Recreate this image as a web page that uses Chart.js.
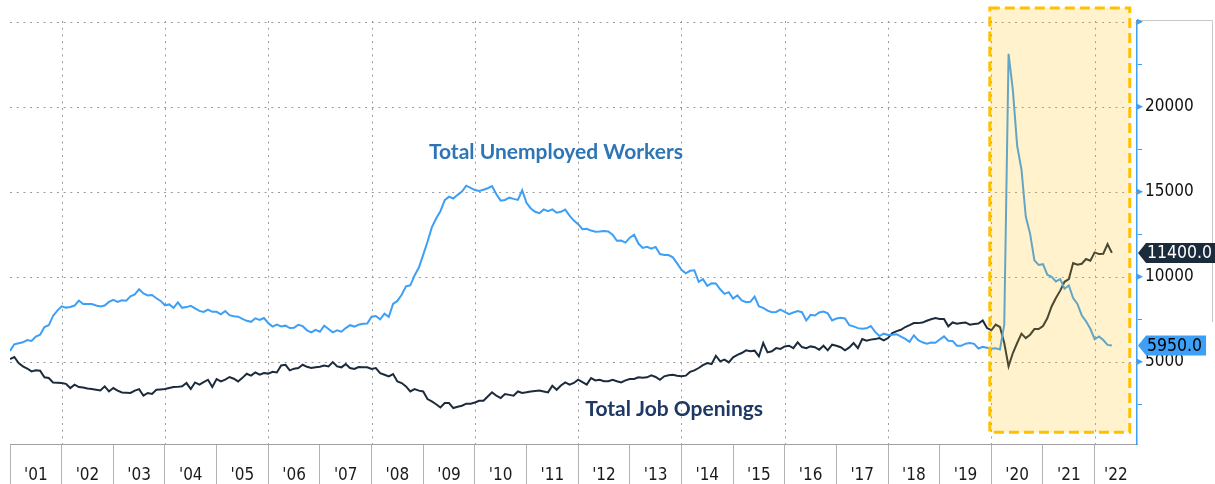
<!DOCTYPE html>
<html>
<head>
<meta charset="utf-8">
<script src="https://cdn.jsdelivr.net/npm/chart.js@4.4.1/dist/chart.umd.min.js"></script>
<style>
body{margin:0;background:#fff}
#wrap{width:1215px;height:484px}
</style>
</head>
<body>
<div id="wrap"><canvas id="chart" width="1215" height="484"></canvas></div>
<script>
// monthly, Dec 2000 .. Apr 2022, thousands; points sit at month end
var firstX = 2001;
var xMax = 2022.82;

var unemployed = [5634,
  6023,6089,6141,6271,6226,6484,6583,7042,7142,7694,8003,8258,
  8182,8215,8304,8599,8399,8393,8390,8304,8251,8307,8520,8640,
  8520,8618,8588,8842,8957,9266,9011,8896,8921,8732,8576,8317,
  8370,8167,8491,8170,8212,8286,8136,7990,7927,8061,7932,7934,
  7784,7980,7737,7672,7651,7524,7406,7345,7553,7453,7566,7279,
  7064,7184,7072,7120,6980,7001,7175,7091,6847,6727,6872,6762,
  7116,6927,6731,6850,6766,6979,7149,7067,7170,7237,7240,7645,
  7685,7497,7822,7637,8395,8575,8937,9438,9494,10074,10538,11286,
  12058,12898,13426,13853,14499,14707,14601,14814,15009,15352,15219,15098,
  15046,15113,15202,15325,14849,14474,14512,14648,14579,14516,15081,14348,
  14013,13820,13737,13957,13855,13962,13763,13818,13948,13594,13302,13093,
  12797,12813,12713,12646,12660,12692,12656,12471,12115,12124,12005,12298,
  12471,11950,11689,11760,11654,11751,11335,11279,11270,11136,10787,10404,
  10202,10349,10380,9702,9859,9460,9608,9599,9262,8990,9090,8717,
  8903,8610,8504,8526,8834,8247,8167,8008,7915,7927,8061,7935,
  7802,7892,7983,7914,7425,7756,7717,7897,7951,7843,7431,7542,
  7592,7543,7149,7079,6976,6935,6965,7100,6750,6510,6648,6573,
  6590,6620,6476,6342,6167,6554,6263,6141,6056,6128,6114,6305,
  6492,6237,6225,5940,5933,6061,6094,6052,5779,5871,5823,5767,
  5796,5726,7185,23109,20975,17697,16308,13542,12535,10963,10696,10736,
  10115,9992,9719,9855,9293,9484,8748,8402,7735,7376,6936,6323,
  6487,6274,5991,5950];

var openings = [
  5160,5275,4920,4725,4600,4430,4500,4470,4080,4040,3780,3760,
  3745,3700,3450,3650,3510,3480,3420,3390,3350,3310,3550,3250,
  3450,3300,3195,3180,3160,3300,3390,3000,3160,3100,3350,3370,
  3390,3450,3510,3520,3550,3745,3390,3780,3650,3800,3940,3510,
  3980,3840,3950,4100,4000,3840,4050,4290,4180,4370,4235,4330,
  4300,4410,4370,4780,4820,4490,4590,4630,4820,4700,4630,4670,
  4700,4780,4725,4980,4725,4670,4860,4630,4570,4690,4680,4670,
  4570,4630,4330,4235,4140,4275,3840,3745,3550,3250,3390,3300,
  3250,2805,2665,2500,2310,2570,2570,2275,2350,2410,2530,2530,
  2600,2700,2705,2950,3195,3000,2865,3100,3050,3000,3250,3160,
  3200,3250,3280,3310,3250,3195,3590,3350,3600,3780,3650,3750,
  3940,3800,3650,4040,3900,3940,3850,3850,3940,3850,3780,3900,
  3980,3980,4080,4050,4080,4200,4100,3940,4140,4200,4235,4180,
  4140,4180,4400,4490,4630,4800,4920,4860,5350,5020,5120,4960,
  5255,5400,5510,5670,5610,5650,5310,6100,5550,5610,5800,5750,
  5900,5940,5800,6140,5860,5800,5900,5850,5700,5940,5670,6000,
  5940,5850,5670,5840,6100,5800,6330,6230,6300,6330,6390,6250,
  6390,6690,6800,6880,7040,7150,7270,7270,7300,7410,7500,7570,
  7510,7510,7080,7310,7235,7280,7310,7180,7220,7250,7430,6980,
  6850,7180,7040,6100,4725,5510,6100,6650,6390,6590,6920,6920,
  7100,7550,8250,8750,9180,9700,9860,10800,10700,10760,11040,10940,
  11430,11330,11350,11920,11400];

var yearLabels = ['01','02','03','04','05','06','07','08','09','10','11',
  '12','13','14','15','16','17','18','19','20','21','22'];
var yTicks = [2500,5000,7500,10000,12500,15000,17500,20000,22500,25000];
var yLabelTicks = [5000,10000,15000,20000];
var yGrid = [5000,10000,15000,20000,25000];
var xGrid = [2002,2004,2006,2008,2010,2012,2014,2016,2018,2020,2022];

// highlighted period: x from, x to, y from, y to
var box = [2019.97, 2022.68, 850, 25800];
var notes = [
  {text: 'Total Unemployed Workers', x: 2011.57, y: 17300, color: '#2e75b6'},
  {text: 'Total Job Openings', x: 2013.86, y: 2230, color: '#1f3864'}
];

var blue = '#3d9ff5';
var navy = '#1c2b3c';
var tickFont = {family: "'DejaVu Sans Condensed', 'Liberation Sans', sans-serif", size: 17};

function toPoints(arr) {
  var out = [];
  for (var i = 0; i < arr.length; i++) {
    out.push({x: firstX + i / 12, y: arr[i]});
  }
  return out;
}

var overlay = {
  id: 'overlay',
  beforeDatasetsDraw: function(chart) {
    var ctx = chart.ctx, xs = chart.scales.x, ys = chart.scales.y, a = chart.chartArea;
    ctx.save();
    ctx.strokeStyle = '#9a9a9a';
    ctx.lineWidth = 1;
    ctx.setLineDash([2, 4.7]);
    yGrid.forEach(function(v) {
      var py = Math.round(ys.getPixelForValue(v)) + 0.5;
      ctx.beginPath();
      ctx.moveTo(a.left, py);
      ctx.lineTo(a.right, py);
      ctx.stroke();
    });
    xGrid.forEach(function(v) {
      var px = Math.round(xs.getPixelForValue(v)) + 0.5;
      ctx.beginPath();
      ctx.moveTo(px, a.top);
      ctx.lineTo(px, a.bottom);
      ctx.stroke();
    });
    ctx.restore();
  },
  afterDatasetsDraw: function(chart) {
    var ctx = chart.ctx, xs = chart.scales.x, ys = chart.scales.y;
    var x1 = xs.getPixelForValue(box[0]), x2 = xs.getPixelForValue(box[1]);
    var y1 = ys.getPixelForValue(box[3]), y2 = ys.getPixelForValue(box[2]);
    ctx.save();
    ctx.fillStyle = 'rgba(255,192,0,0.2)';
    ctx.fillRect(x1, y1, x2 - x1, y2 - y1);
    ctx.strokeStyle = '#ffc000';
    ctx.lineWidth = 3;
    ctx.setLineDash([10, 5]);
    ctx.strokeRect(x1, y1, x2 - x1, y2 - y1);
    ctx.setLineDash([]);
    ctx.font = "bold 21px Lato, 'Open Sans', sans-serif";
    ctx.textAlign = 'center';
    ctx.textBaseline = 'middle';
    notes.forEach(function(n) {
      ctx.fillStyle = n.color;
      ctx.fillText(n.text, xs.getPixelForValue(n.x), ys.getPixelForValue(n.y));
    });
    ctx.restore();
  },
  afterDraw: function(chart) {
    var ctx = chart.ctx, ys = chart.scales.y;
    var ax = chart.chartArea.right;
    ctx.save();
    // frame at right
    ctx.strokeStyle = '#c8c8c8';
    ctx.lineWidth = 1;
    ctx.beginPath();
    ctx.moveTo(ax, chart.chartArea.top - 0.5);
    ctx.lineTo(1212.5, chart.chartArea.top - 0.5);
    ctx.lineTo(1212.5, 322);
    ctx.stroke();
    // major tick markers
    ctx.fillStyle = blue;
    yGrid.forEach(function(v) {
      var py = ys.getPixelForValue(v);
      ctx.beginPath();
      ctx.moveTo(ax, py - 3);
      ctx.lineTo(ax + 6, py);
      ctx.lineTo(ax, py + 3);
      ctx.closePath();
      ctx.fill();
    });
    // last value flags
    ctx.font = "17.5px 'DejaVu Sans Condensed', 'Liberation Sans', sans-serif";
    ctx.textBaseline = 'middle';
    ctx.textAlign = 'left';
    var flags = [
      {v: openings[openings.length - 1], bg: navy, fg: '#ffffff'},
      {v: unemployed[unemployed.length - 1], bg: blue, fg: '#000000'}
    ];
    flags.forEach(function(f) {
      var txt = f.v.toFixed(1);
      var cy = ys.getPixelForValue(f.v);
      var w = ctx.measureText(txt).width;
      var tip = ax + 1, bx = tip + 8, right = bx + w + 5, h = 10;
      ctx.fillStyle = f.bg;
      ctx.beginPath();
      ctx.moveTo(tip, cy);
      ctx.lineTo(bx, cy - h);
      ctx.lineTo(right, cy - h);
      ctx.lineTo(right, cy + h);
      ctx.lineTo(bx, cy + h);
      ctx.closePath();
      ctx.fill();
      ctx.fillStyle = f.fg;
      ctx.fillText(txt, bx + 1, cy + 1);
    });
    ctx.restore();
  }
};

new Chart(document.getElementById('chart'), {
  type: 'line',
  data: {
    datasets: [
      {label: 'Total Unemployed Workers', data: toPoints(unemployed),
        borderColor: blue, borderWidth: 2, pointRadius: 0, tension: 0},
      {label: 'Total Job Openings', data: toPoints(openings),
        borderColor: navy, borderWidth: 2, pointRadius: 0, tension: 0}
    ]
  },
  plugins: [overlay],
  options: {
    responsive: false,
    animation: false,
    devicePixelRatio: 1,
    events: [],
    layout: {padding: {top: 21, left: 10, right: 0, bottom: 0}},
    plugins: {legend: {display: false}, tooltip: {enabled: false}},
    scales: {
      x: {
        type: 'linear',
        position: 'bottom',
        min: firstX,
        max: xMax,
        afterBuildTicks: function(s) {
          var t = [];
          for (var k = 0; k < yearLabels.length; k++) {
            var yr = firstX + k;
            t.push({value: yr});
            t.push({value: yr + 1 < xMax ? yr + 0.5 : (yr + xMax) / 2});
          }
          s.ticks = t;
        },
        afterFit: function(s) { s.height = 40; },
        ticks: {
          autoSkip: false,
          maxRotation: 0,
          padding: -19,
          color: '#1a1a1a',
          font: tickFont,
          callback: function(v) {
            if (Math.abs(v - Math.round(v)) < 0.01) return '';
            return "'" + yearLabels[Math.floor(v) - firstX];
          }
        },
        grid: {
          drawOnChartArea: false,
          tickColor: function(c) {
            var v = c.tick ? c.tick.value : 0;
            return Math.abs(v - Math.round(v)) < 0.01 ? '#b4b4b4' : 'rgba(0,0,0,0)';
          },
          tickLength: 40,
          lineWidth: 1
        },
        border: {color: '#a0a0a0', width: 1}
      },
      y: {
        type: 'linear',
        position: 'right',
        min: 160,
        max: 25040,
        afterBuildTicks: function(s) {
          s.ticks = yTicks.map(function(v) { return {value: v}; });
        },
        afterFit: function(s) { s.width = 78; },
        ticks: {
          padding: 3,
          color: '#111111',
          font: tickFont,
          callback: function(v) {
            return yLabelTicks.indexOf(v) >= 0 ? String(v) : '';
          }
        },
        grid: {
          drawOnChartArea: false,
          tickColor: blue,
          tickLength: 5,
          lineWidth: 1
        },
        border: {color: blue, width: 1.5}
      }
    }
  }
});
</script>
</body>
</html>
